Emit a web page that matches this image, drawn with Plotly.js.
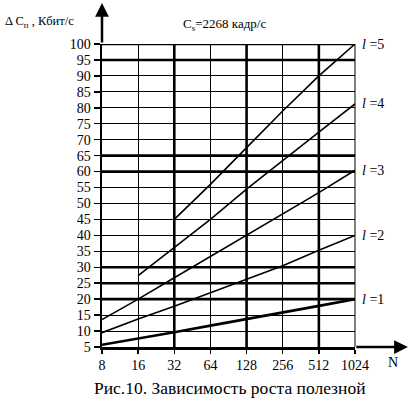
<!DOCTYPE html>
<html>
<head>
<meta charset="utf-8">
<script src="https://cdn.plot.ly/plotly-3.0.1.min.js"></script>
<style>
  html, body { margin: 0; padding: 0; background: #fff; }
  #chart { width: 412px; height: 403px; }
</style>
</head>
<body>
<div id="chart"></div>
<script>
// ===== data =====
const nValues = [8, 16, 32, 64, 128, 256, 512, 1024];
const yTicks = [5, 10, 15, 20, 25, 30, 35, 40, 45, 50, 55, 60, 65, 70, 75, 80, 85, 90, 95, 100];
const thickY = [20, 25, 30, 60, 65, 95, 100];
const thickX = [32, 128, 512];

const l1 = [5.7, 7.6, 9.6, 11.7, 13.7, 15.8, 17.9, 20];
const l2 = [9.5, 13.8, 17.8, 22, 26.1, 30.5, 35.3, 40];
const l3 = [13.6, 20, 26.7, 33.4, 40, 46.7, 53.4, 60.4];
const l4 = [27.4, 36.2, 45, 54.5, 63.6, 72.4, 81.2];   // from N=16
const l5 = [45, 56, 67.5, 79, 90, 100];                // from N=32

const seriesNames = ["1", "2", "3", "4", "5"];

// ===== helpers =====
const FONT = "Liberation Serif";

function lineTrace(ys, width) {
  const xs = nValues.slice(nValues.length - ys.length);
  return {
    x: xs, y: ys, type: "scatter", mode: "lines",
    line: { color: "#000", width: width },
    hoverinfo: "skip", showlegend: false
  };
}

function render() {
  const all = [l1, l2, l3, l4, l5];
  const traces = all.map((ys, i) => lineTrace(ys, i === 0 ? 2.6 : 1.6));

  // толстые линии сетки
  const shapes = [];
  thickY.forEach(v => shapes.push({
    type: "line", xref: "paper", yref: "y", x0: 0, x1: 1, y0: v, y1: v,
    line: { color: "#000", width: 2.6 }, layer: "below"
  }));
  thickX.forEach(v => shapes.push({
    type: "line", xref: "x", yref: "paper", x0: v, x1: v, y0: 0, y1: 1,
    line: { color: "#000", width: 2.6 }, layer: "below"
  }));
  // правая граница (тонкая)
  shapes.push({
    type: "line", xref: "paper", yref: "paper", x0: 1, x1: 1, y0: 0, y1: 1,
    line: { color: "#000", width: 1 }, layer: "below"
  });

  const annotations = [];
  // подписи кривых l=1..5
  all.forEach((ys, i) => annotations.push({
    x: Math.log10(1024), y: ys[ys.length - 1], xref: "x", yref: "y",
    text: "<i>l</i> =" + seriesNames[i], showarrow: false,
    xanchor: "left", yanchor: "middle", xshift: 5,
    font: { family: FONT, size: 14, color: "#000" }
  }));
  // стрелки осей
  annotations.push({
    xref: "paper", yref: "paper", x: 0, y: 1.135, ax: 0, ay: 41,
    text: "", showarrow: true, arrowhead: 2, arrowsize: 1.1, arrowwidth: 2.5, arrowcolor: "#000"
  });
  annotations.push({
    xref: "paper", yref: "paper", x: 1.209, y: 0, ax: -53, ay: 0,
    text: "", showarrow: true, arrowhead: 2, arrowsize: 1.1, arrowwidth: 2.5, arrowcolor: "#000"
  });
  // подписи осей
  annotations.push({
    xref: "paper", yref: "paper", x: -0.391, y: 1.073, xanchor: "left", yanchor: "middle",
    text: "Δ C<sub>п</sub> , Кбит/с", showarrow: false,
    font: { family: FONT, size: 12.5, color: "#000" }
  });
  annotations.push({
    xref: "paper", yref: "paper", x: 1.15, y: 0, yshift: -15, xanchor: "center", yanchor: "middle",
    text: "N", showarrow: false,
    font: { family: FONT, size: 14, color: "#000" }
  });
  annotations.push({
    xref: "paper", yref: "paper", x: 0.486, y: 1.063, xanchor: "center", yanchor: "middle",
    text: "C<sub>s</sub>=2268 кадр/с", showarrow: false,
    font: { family: FONT, size: 13, color: "#000" }
  });
  // подпись рисунка
  annotations.push({
    xref: "paper", yref: "paper", x: 0.506, y: -0.135, xanchor: "center", yanchor: "middle",
    text: "Рис.10. Зависимость роста полезной", showarrow: false,
    font: { family: FONT, size: 17.5, color: "#000" }
  });

  const layout = {
    width: 412, height: 403,
    margin: { l: 102, r: 57, t: 44, b: 56 },
    paper_bgcolor: "#fff", plot_bgcolor: "#fff",
    showlegend: false,
    font: { family: FONT, color: "#000" },
    xaxis: {
      type: "log", range: [Math.log10(8), Math.log10(1024)],
      tickmode: "array", tickvals: nValues, ticktext: nValues.map(String),
      showgrid: true, gridcolor: "#000", gridwidth: 1,
      showline: true, linecolor: "#000", linewidth: 2.5,
      ticks: "outside", ticklen: 4, tickwidth: 1.5, tickcolor: "#000",
      zeroline: false, fixedrange: true,
      tickfont: { family: FONT, size: 14, color: "#000" }
    },
    yaxis: {
      range: [5, 100],
      tickmode: "array", tickvals: yTicks, ticktext: yTicks.map(String),
      showgrid: true, gridcolor: "#000", gridwidth: 1,
      showline: true, linecolor: "#000", linewidth: 2.5,
      ticks: "outside", ticklen: 6, tickwidth: 1.5, tickcolor: "#000",
      zeroline: false, fixedrange: true,
      tickfont: { family: FONT, size: 14, color: "#000" }
    },
    shapes: shapes,
    annotations: annotations
  };

  Plotly.newPlot("chart", traces, layout, { displayModeBar: false, staticPlot: true });
}

document.addEventListener("DOMContentLoaded", render);
</script>
</body>
</html>
